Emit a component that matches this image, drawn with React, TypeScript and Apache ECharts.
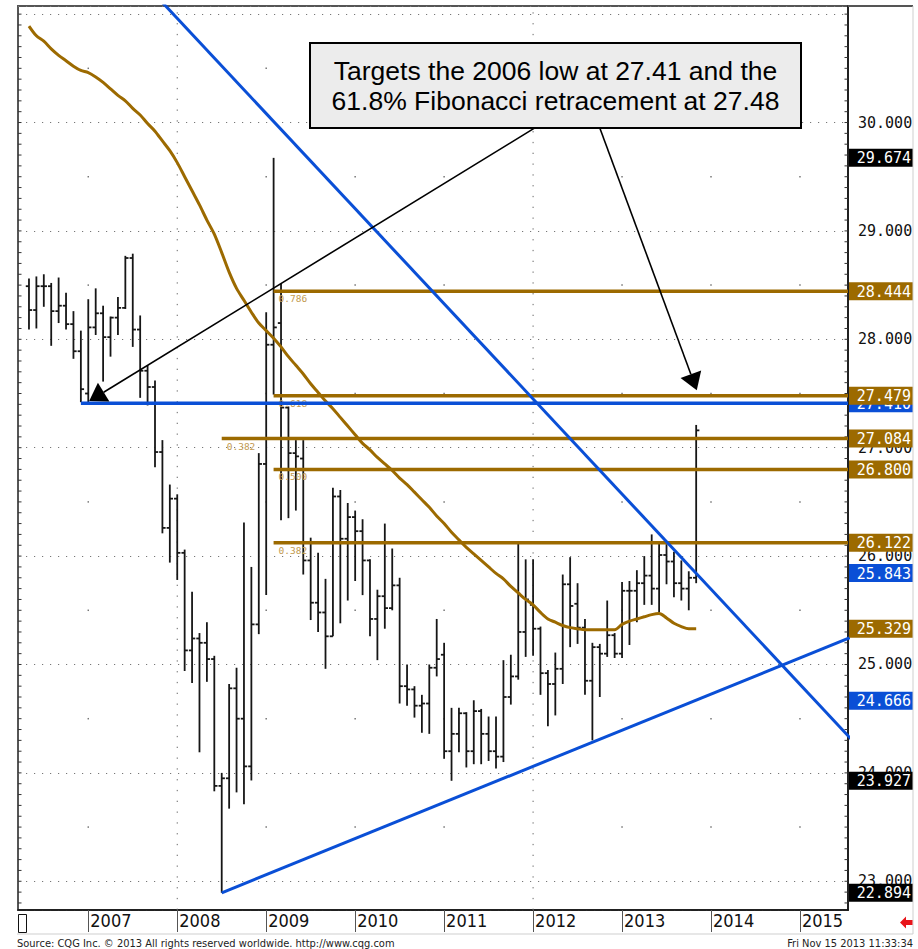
import React, { useEffect, useRef } from 'react';
import * as echarts from 'echarts';

// ---- axes / layout constants ----
const START_YEAR = 2006;
const START_MONTH = 5; // first monthly bar: May 2006
const X_MIN = 2006.21;
const X_MAX = 2015.54;
const Y_MIN = 22.735;
const Y_MAX = 31.075;

const yearTicks = [2007, 2008, 2009, 2010, 2011, 2012, 2013, 2014, 2015];
const priceTicks = [23, 24, 25, 26, 27, 28, 29, 30];
const fullGridYears = [2008, 2012];

// ---- monthly OHLC (EUR/CZK), May 2006 .. Nov 2013 ----
const opens = [
  28.49, 28.27, 28.49, 28.49, 28.26, 28.31, 28.14, 27.89, 27.5, 28.11,
  28.24, 28.02, 28.2, 28.29, 28.75, 28.09, 27.71, 27.56, 26.96, 26.26,
  26.53, 26.03, 25.13, 25.24, 25.2, 25.05, 23.88, 23.95, 24.78, 24.5,
  24.06, 25.37, 26.85, 27.95, 28.15, 27.37, 26.95, 26.9, 25.96, 25.57,
  25.48, 25.26, 26.55, 26.16, 26.36, 26.23, 25.96, 25.42, 25.63, 25.52,
  25.73, 24.8, 24.77, 24.62, 24.64, 24.97, 25.09, 24.2, 24.36, 24.55,
  24.2, 24.57, 24.36, 24.2, 24.15, 24.7, 24.89, 25.3, 25.55, 25.33,
  24.92, 24.82, 24.96, 25.74, 25.56, 25.34, 24.85, 25.16, 25.1, 25.27,
  25.1, 25.68, 25.68, 25.75, 25.82, 25.7, 26.01, 25.95, 25.75, 25.7,
  25.8,
];
const highs = [
  28.56, 28.58, 28.6, 28.52, 28.57, 28.43, 28.26, 28.08, 28.37, 28.47,
  28.31, 28.21, 28.39, 28.77, 28.79, 28.22, 27.76, 27.62, 27.07, 26.66,
  26.57, 26.06, 25.67, 25.29, 25.39, 25.08, 24.0, 24.82, 24.97, 26.31,
  25.9, 26.95, 28.25, 29.674, 28.51, 27.38, 27.07, 27.07, 26.17, 26.03,
  25.79, 26.63, 26.61, 26.49, 26.42, 26.34, 25.97, 25.69, 26.3, 26.07,
  25.8, 25.0, 24.8, 24.72, 25.0, 25.42, 25.2, 24.6, 24.6, 24.56,
  24.67, 24.59, 24.52, 24.52, 25.04, 25.09, 26.122, 25.97, 25.97, 25.35,
  24.95, 25.11, 25.83, 25.99, 25.75, 25.42, 25.2, 25.19, 25.59, 25.29,
  25.76, 25.77, 25.87, 26.0, 26.2, 26.12, 26.11, 26.04, 25.96, 25.86,
  27.21,
];
const lows = [
  28.09, 28.1, 28.3, 27.94, 28.15, 28.09, 27.82, 27.42, 27.42, 28.04,
  27.61, 27.84, 28.04, 28.28, 27.93, 27.46, 27.39, 26.82, 26.21, 25.94,
  25.78, 24.94, 24.83, 24.19, 24.84, 23.83, 22.894, 23.67, 23.82, 23.71,
  23.93, 25.28, 25.64, 27.49, 26.33, 26.35, 26.42, 25.83, 25.41, 25.3,
  24.96, 25.26, 25.38, 25.59, 25.77, 25.64, 25.26, 25.04, 25.33, 25.5,
  24.64, 24.62, 24.51, 24.37, 24.36, 24.89, 24.13, 23.927, 24.19, 24.05,
  24.08, 24.08, 24.11, 24.04, 24.1, 24.63, 24.86, 25.07, 25.08, 24.72,
  24.43, 24.53, 24.82, 25.16, 25.19, 24.72, 24.3, 24.7, 25.07, 25.06,
  25.06, 25.18, 25.39, 25.55, 25.55, 25.48, 25.74, 25.62, 25.59, 25.5,
  25.75,
];
const closes = [
  28.27, 28.49, 28.49, 28.26, 28.31, 28.14, 27.89, 27.54, 28.11, 28.24,
  28.02, 28.2, 28.29, 28.75, 28.09, 27.71, 27.56, 26.96, 26.26, 26.53,
  26.03, 25.13, 25.24, 25.2, 25.05, 23.88, 23.95, 24.78, 24.5, 24.06,
  25.37, 26.85, 27.95, 28.11, 27.37, 26.95, 26.92, 25.96, 25.57, 25.48,
  25.26, 26.55, 26.16, 26.36, 26.23, 25.96, 25.42, 25.63, 25.52, 25.73,
  24.8, 24.77, 24.62, 24.64, 24.97, 25.05, 24.2, 24.36, 24.55, 24.2,
  24.57, 24.36, 24.2, 24.15, 24.7, 24.89, 25.3, 25.6, 25.33, 24.92,
  24.82, 24.96, 25.74, 25.54, 25.34, 24.85, 25.16, 25.1, 25.27, 25.1,
  25.68, 25.68, 25.75, 25.82, 25.7, 26.01, 25.95, 25.75, 25.7, 25.8,
  27.16,
];
const movingAverage = [
  30.89, 30.8, 30.75, 30.68, 30.62, 30.57, 30.52, 30.48, 30.46, 30.42,
  30.37, 30.31, 30.25, 30.2, 30.13, 30.07, 29.99, 29.92, 29.83, 29.74,
  29.63, 29.5, 29.37, 29.24, 29.1, 28.97, 28.8, 28.62, 28.47, 28.36,
  28.25, 28.15, 28.08, 28.01, 27.93, 27.84, 27.76, 27.68, 27.59, 27.51,
  27.43, 27.36, 27.28, 27.2, 27.12, 27.04, 26.98, 26.91, 26.85, 26.79,
  26.72, 26.66, 26.59, 26.52, 26.45, 26.37, 26.3, 26.22, 26.15, 26.08,
  26.02, 25.96, 25.9, 25.84, 25.79, 25.72, 25.66, 25.6, 25.55, 25.48,
  25.42, 25.39, 25.36, 25.34, 25.33, 25.32, 25.32, 25.32, 25.32, 25.32,
  25.37, 25.4, 25.42, 25.44, 25.46, 25.47, 25.43, 25.38, 25.35, 25.33,
  25.33,
];

// ---- Fibonacci retracement levels ----
const fibLevels = [28.444, 27.479, 27.084, 26.8, 26.122];
const fibRatios = ['0.786', '0.618', '0.382', '0.500', '0.382'];
const fibStarts = [2009.083, 2009.083, 2008.5, 2009.083, 2009.083];

// ---- trend / support lines ----
const supportLevel = 27.41;
const supportStart = 2006.917;
const downTrend = [[2007.5, 31.4], [2015.6, 24.29]];
const upTrend = [[2008.5, 22.894], [2015.6, 25.26]];

// ---- annotation arrows (from box to targets) ----
const arrowFrom = [[2012.02, 29.95], [2012.75, 29.95]];
const arrowTo = [[2007.01, 27.43], [2013.84, 27.53]];

// ---- price tags on the right axis ----
const tagValues = [29.674, 28.444, 27.41, 27.479, 27.084, 26.8, 26.122, 25.843, 25.329, 24.666, 23.927, 22.894];
const tagKinds = ['extreme', 'fib', 'trend', 'fib', 'fib', 'fib', 'fib', 'trend', 'ma', 'trend', 'extreme', 'extreme'];

const BROWN = '#9c6a00';
const BLUE = '#0a4fd6';
const kindColor: Record<string, string> = { extreme: '#000000', fib: BROWN, ma: BROWN, trend: BLUE };

const monthX = (i: number) => START_YEAR + (START_MONTH - 1 + i) / 12;

export default function App() {
  const ref = useRef<HTMLDivElement>(null);

  useEffect(() => {
    const chart = echarts.init(ref.current as HTMLDivElement, null, { renderer: 'svg' });

    const ohlcData = opens.map((o, i) => [monthX(i), o, highs[i], lows[i], closes[i]]);
    const maData = movingAverage.map((v, i) => [monthX(i), v]);

    const minorTickValues: number[] = [];
    for (let k = Math.ceil(Y_MIN * 10); k <= Math.floor(Y_MAX * 10); k++) minorTickValues.push(k / 10);

    const dotData: number[][] = [];
    yearTicks
      .filter((y) => fullGridYears.indexOf(y) < 0)
      .forEach((y) => priceTicks.forEach((p) => dotData.push([y, p + 0.5])));

    const option: any = {
      animation: false,
      backgroundColor: '#ffffff',
      grid: { left: 18, right: 70, top: 6, bottom: 39, show: true, borderColor: '#555', borderWidth: 2, backgroundColor: 'transparent' },
      xAxis: {
        type: 'value',
        min: X_MIN,
        max: X_MAX,
        splitNumber: 9,
        axisLine: { show: true, onZero: false, lineStyle: { color: '#111', width: 1.5 } },
        axisTick: { show: true, customValues: yearTicks, length: 22, lineStyle: { color: '#555', width: 1 } },
        axisLabel: {
          customValues: yearTicks,
          formatter: (v: number) => String(Math.round(v)),
          align: 'left',
          margin: 1,
          padding: [0, 0, 0, 2],
          fontFamily: '"Liberation Sans Narrow", "DejaVu Sans Condensed", Roboto, sans-serif',
          fontSize: 18,
          color: '#111',
        },
        splitLine: { show: false },
      },
      yAxis: {
        type: 'value',
        position: 'right',
        min: Y_MIN,
        max: Y_MAX,
        splitNumber: 8,
        axisLine: { show: true, onZero: false, lineStyle: { color: '#111', width: 1.5 } },
        axisTick: { show: false },
        axisLabel: {
          customValues: priceTicks,
          formatter: (v: number) => v.toFixed(3),
          margin: 10,
          fontFamily: '"DejaVu Sans Mono", monospace',
          fontSize: 15,
          color: '#111',
        },
        splitLine: { show: true, lineStyle: { color: '#777', type: [1.2, 6.8], width: 1 } },
      },
      series: [
        {
          type: 'custom',
          name: 'vgrid',
          silent: true,
          z: 1,
          data: fullGridYears.map((y) => [y, Y_MIN]),
          renderItem: (params: any, api: any) => {
            const a = api.coord([api.value(0), Y_MIN]);
            const b = api.coord([api.value(0), Y_MAX]);
            return {
              type: 'line',
              shape: { x1: a[0], y1: a[1], x2: b[0], y2: b[1] },
              style: { stroke: '#666', lineWidth: 1, lineDash: [1.3, 9.5] },
            };
          },
        },
        {
          type: 'scatter',
          name: 'dots',
          silent: true,
          z: 1,
          symbol: 'rect',
          symbolSize: 1.5,
          itemStyle: { color: '#555' },
          data: dotData,
        },
        {
          type: 'custom',
          name: 'ticks',
          silent: true,
          z: 2,
          data: minorTickValues.map((v) => [X_MIN, v]),
          renderItem: (params: any, api: any) => {
            const v = api.value(1);
            const l = api.coord([X_MIN, v]);
            const r = api.coord([X_MAX, v]);
            const st = { stroke: '#333', lineWidth: 1 };
            return {
              type: 'group',
              children: [
                { type: 'line', shape: { x1: l[0], y1: l[1], x2: l[0] + 3.5, y2: l[1] }, style: st },
                { type: 'line', shape: { x1: r[0] - 3.5, y1: r[1], x2: r[0], y2: r[1] }, style: st },
              ],
            };
          },
        },
        {
          type: 'custom',
          name: 'EUR/CZK monthly',
          z: 3,
          data: ohlcData,
          encode: { x: 0, y: [1, 2, 3, 4] },
          renderItem: (params: any, api: any) => {
            const t = api.value(0);
            const po = api.coord([t, api.value(1)]);
            const ph = api.coord([t, api.value(2)]);
            const pl = api.coord([t, api.value(3)]);
            const pc = api.coord([t, api.value(4)]);
            const x = ph[0];
            const st = { stroke: '#161616', lineWidth: 1.8 };
            return {
              type: 'group',
              children: [
                { type: 'line', shape: { x1: x, y1: ph[1], x2: x, y2: pl[1] }, style: st },
                { type: 'line', shape: { x1: x - 3.2, y1: po[1], x2: x, y2: po[1] }, style: st },
                { type: 'line', shape: { x1: x, y1: pc[1], x2: x + 3.2, y2: pc[1] }, style: st },
              ],
            };
          },
        },
        {
          type: 'line',
          name: 'Moving average',
          z: 4,
          data: maData,
          showSymbol: false,
          symbol: 'none',
          smooth: 0.3,
          lineStyle: { color: BROWN, width: 3 },
        },
        {
          type: 'custom',
          name: 'Fibonacci',
          z: 5,
          data: fibLevels.map((v, i) => [fibStarts[i], v]),
          renderItem: (params: any, api: any) => {
            const lv = api.value(1);
            const a = api.coord([api.value(0), lv]);
            const b = api.coord([X_MAX, lv]);
            return {
              type: 'group',
              children: [
                { type: 'line', shape: { x1: a[0], y1: a[1], x2: b[0], y2: b[1] }, style: { stroke: BROWN, lineWidth: 3.5 } },
                {
                  type: 'text',
                  style: {
                    text: fibRatios[params.dataIndex],
                    x: a[0] + 5,
                    y: a[1] + 2.5,
                    fill: '#c29a50',
                    fontFamily: '"DejaVu Sans Mono", monospace',
                    fontSize: 9.5,
                    align: 'left',
                    verticalAlign: 'top',
                  },
                },
              ],
            };
          },
        },
        {
          type: 'line',
          name: '2006 low',
          z: 6,
          data: [[supportStart, supportLevel], [X_MAX, supportLevel]],
          showSymbol: false,
          symbol: 'none',
          lineStyle: { color: BLUE, width: 3.5 },
        },
        {
          type: 'line',
          name: 'Down trend',
          z: 6,
          data: downTrend,
          showSymbol: false,
          symbol: 'none',
          clip: true,
          lineStyle: { color: BLUE, width: 3 },
        },
        {
          type: 'line',
          name: 'Up trend',
          z: 6,
          data: upTrend,
          showSymbol: false,
          symbol: 'none',
          clip: true,
          lineStyle: { color: BLUE, width: 3 },
        },
        {
          type: 'custom',
          name: 'arrows',
          z: 7,
          silent: true,
          data: arrowFrom.map((f, i) => [f[0], f[1], arrowTo[i][0], arrowTo[i][1]]),
          renderItem: (params: any, api: any) => {
            const a = api.coord([api.value(0), api.value(1)]);
            const b = api.coord([api.value(2), api.value(3)]);
            const dx = b[0] - a[0];
            const dy = b[1] - a[1];
            const len = Math.sqrt(dx * dx + dy * dy);
            const ux = dx / len;
            const uy = dy / len;
            const L = 17;
            const W = 11;
            const bx = b[0] - ux * L;
            const by = b[1] - uy * L;
            return {
              type: 'group',
              children: [
                { type: 'line', shape: { x1: a[0], y1: a[1], x2: bx, y2: by }, style: { stroke: '#000', lineWidth: 1.6 } },
                {
                  type: 'polygon',
                  shape: { points: [[b[0], b[1]], [bx - uy * W, by + ux * W], [bx + uy * W, by - ux * W]] },
                  style: { fill: '#000' },
                },
              ],
            };
          },
        },
        {
          type: 'custom',
          name: 'tags',
          z: 8,
          silent: true,
          data: tagValues.map((v) => [X_MAX, v]),
          renderItem: (params: any, api: any) => {
            const v = api.value(1);
            const p = api.coord([X_MAX, v]);
            const color = kindColor[tagKinds[params.dataIndex]];
            return {
              type: 'group',
              children: [
                { type: 'rect', shape: { x: p[0] + 1, y: p[1] - 9, width: 64, height: 18 }, style: { fill: color } },
                {
                  type: 'text',
                  style: {
                    text: v.toFixed(3),
                    x: p[0] + 63,
                    y: p[1] + 0.5,
                    fill: '#ffffff',
                    fontFamily: '"DejaVu Sans Mono", monospace',
                    fontSize: 15,
                    align: 'right',
                    verticalAlign: 'middle',
                  },
                },
              ],
            };
          },
        },
      ],
      graphic: [
        { type: 'line', z: 50, shape: { x1: 848, y1: 6, x2: 913, y2: 6 }, style: { stroke: '#555', lineWidth: 2 } },
        { type: 'line', z: 50, shape: { x1: 913, y1: 6, x2: 913, y2: 934 }, style: { stroke: '#cfcfcf', lineWidth: 1 } },
        { type: 'line', z: 50, shape: { x1: 17, y1: 934, x2: 913, y2: 934 }, style: { stroke: '#cfcfcf', lineWidth: 1 } },
        { type: 'rect', z: 50, shape: { x: 18.5, y: 914.5, width: 8, height: 18 }, style: { fill: '#fff', stroke: '#111', lineWidth: 1 } },
        {
          type: 'polygon',
          z: 50,
          shape: { points: [[900, 922.5], [906, 916.5], [906, 920], [912.5, 920], [912.5, 925], [906, 925], [906, 928.5]] },
          style: { fill: '#e8141a' },
        },
        {
          type: 'rect',
          z: 100,
          shape: { x: 310, y: 43, width: 491, height: 85 },
          style: { fill: '#ececec', stroke: '#000', lineWidth: 2 },
        },
        {
          type: 'text',
          z: 101,
          x: 555.5,
          y: 86,
          style: {
            text: 'Targets the 2006 low at 27.41 and the\n61.8% Fibonacci retracement at 27.48',
            fontFamily: '"Liberation Sans", Arial, sans-serif',
            fontSize: 26.5,
            lineHeight: 30,
            fill: '#000',
            align: 'center',
            verticalAlign: 'middle',
            textAlign: 'center',
            textVerticalAlign: 'middle',
          },
        },
        {
          type: 'text',
          z: 50,
          x: 17,
          y: 943,
          style: {
            text: 'Source: CQG Inc. \u00a9 2013 All rights reserved worldwide. http://www.cqg.com',
            fontFamily: '"Liberation Sans Narrow", "DejaVu Sans Condensed", "Liberation Sans", sans-serif',
            fontSize: 11,
            fill: '#222',
            align: 'left',
            verticalAlign: 'middle',
            textAlign: 'left',
            textVerticalAlign: 'middle',
          },
        },
        {
          type: 'text',
          z: 50,
          x: 913,
          y: 943,
          style: {
            text: 'Fri Nov 15 2013 11:33:34',
            fontFamily: '"Liberation Sans Narrow", "DejaVu Sans Condensed", "Liberation Sans", sans-serif',
            fontSize: 11,
            fill: '#222',
            align: 'right',
            verticalAlign: 'middle',
            textAlign: 'right',
            textVerticalAlign: 'middle',
          },
        },
      ],
    };

    chart.setOption(option);
    return () => chart.dispose();
  }, []);

  return (
    <div
      ref={ref}
      style={{ position: 'absolute', left: 0, top: 0, width: 918, height: 949, background: '#ffffff' }}
    />
  );
}
